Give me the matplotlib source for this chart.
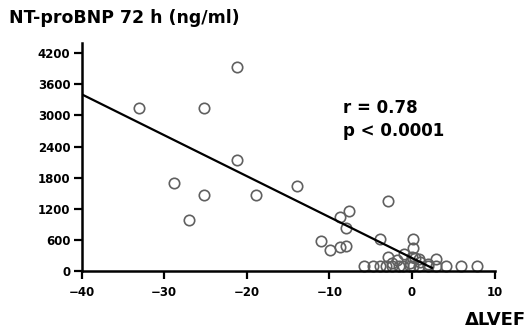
import matplotlib
matplotlib.use('Agg')
import matplotlib.pyplot as plt
import numpy as np


matplotlib.rcParams['font.family'] = 'DejaVu Sans'
matplotlib.rcParams['font.weight'] = 'bold'

# delta LVEF (x) vs NT-proBNP at 72 h (y)
dlvef = [-33.1, -25.2, -21.2, -21.2, -28.8, -25.2, -27.0, -18.9, -13.9, -2.9,
         -7.6, -8.7, -8.0, -11.0, -9.9, -8.7, -8.0, -3.9, 0.1, 0.1,
         -5.8, -4.7, -3.9, -3.1, -2.4, -1.6, -1.1, -0.3, 0.1, 0.9,
         1.9, 2.9, 4.1, 5.9, 7.9,
         -2.9, -2.4, -1.8, -1.0, -0.2, 0.0, 0.4, 0.8, 1.0, 1.9, 2.9]
ntprobnp = [3140, 3140, 3930, 2140, 1700, 1460, 985, 1460, 1640, 1350,
            1150, 1040, 830, 580, 400, 460, 480, 620, 620, 440,
            100, 100, 100, 100, 100, 100, 100, 100, 100, 100,
            100, 100, 100, 100, 100,
            270, 150, 210, 330, 150, 270, 250, 230, 175, 130, 230]

# regression line as drawn
fit_slope = -79.0
fit_intercept = 250.0
fit_x = [-40, 2.4]

xticks = [-40, -30, -20, -10, 0, 10]
yticks = [0, 600, 1200, 1800, 2400, 3000, 3600, 4200]


def plot_corr():
    fig = plt.figure(figsize=(5.27, 3.35), dpi=100)
    ax = fig.add_axes([0.1547, 0.191, 0.784, 0.681])

    ax.plot(dlvef, ntprobnp, 'o', mfc='none', mec='#606060', mew=1.2, ms=7.5, clip_on=False)
    fx = np.array(fit_x)
    ax.plot(fx, fit_slope * fx + fit_intercept, 'k-', lw=1.6)

    ax.set_xlim(-40, 10)
    ax.set_ylim(0, 4400)
    ax.set_xticks(xticks)
    ax.set_yticks(yticks)
    ax.tick_params(labelsize=8.5, width=1.6, length=5.5)
    ax.tick_params(axis='x', pad=5)
    ax.tick_params(axis='y', pad=2.5)
    for s in ['top', 'right']:
        ax.spines[s].set_visible(False)
    for s in ['left', 'bottom']:
        ax.spines[s].set_linewidth(1.8)

    ax.text(-8.3, 3140, 'r = 0.78', fontsize=12, fontweight='bold', va='center')
    ax.text(-8.3, 2700, 'p < 0.0001', fontsize=12, fontweight='bold', va='center')

    fig.text(0.017, 0.945, 'NT-proBNP 72 h (ng/ml)', fontsize=12.5, fontweight='bold', va='center')
    fig.text(0.998, 0.045, '\u0394LVEF', fontsize=13, fontweight='bold', ha='right', va='center')

    fig.savefig('out.png', dpi=100)


if __name__ == '__main__':
    plot_corr()
